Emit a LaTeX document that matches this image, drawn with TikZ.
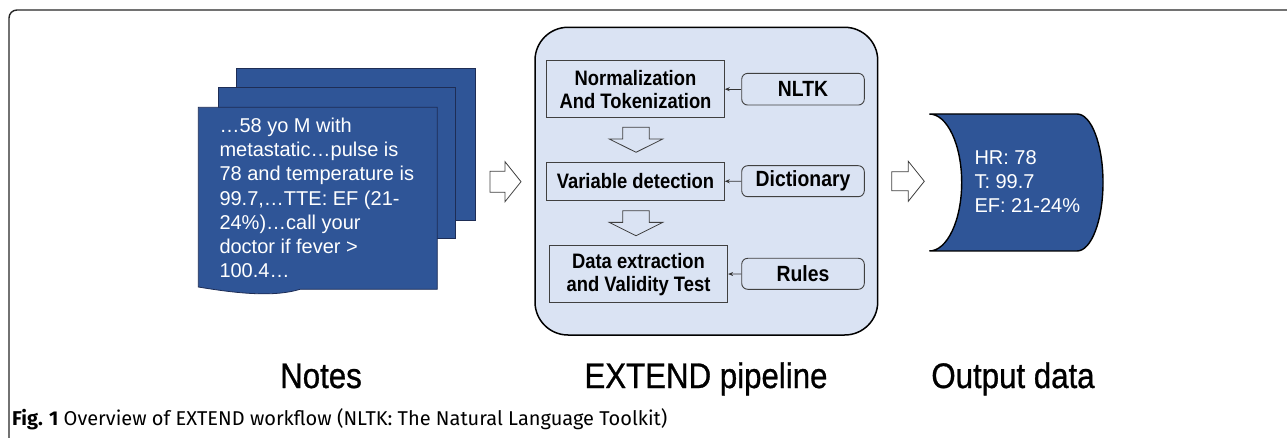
\documentclass[tikz,border=0pt]{standalone}
\usepackage{fontspec}
\setmainfont{Liberation Sans}
\newfontfamily\tallfont[FakeStretch=0.88]{Liberation Sans}
\newfontfamily\labelfont[FakeStretch=0.88,FakeBold=0.8]{Liberation Sans}
\newfontfamily\capfont{Fira Sans}
\usetikzlibrary{arrows.meta}
\definecolor{docblue}{RGB}{47,85,151}
\definecolor{paleblue}{RGB}{218,227,243}
\definecolor{docedge}{RGB}{30,45,85}
\newcommand*{\fwd}{1287}
\newcommand*{\fht}{438}

\begin{document}
\begin{tikzpicture}[x=1pt, y=-1pt,
    stepbox/.style={draw=black!75, line width=0.9pt, fill=paleblue, inner sep=0pt, align=center,
                    font=\tallfont\fontsize{20.9}{23.3}\selectfont\bfseries},
    srcbox/.style={stepbox, rounded corners=6pt, font=\tallfont\fontsize{22}{24}\selectfont\bfseries},
    feed/.style={-{Stealth[length=5pt,width=4pt]}, line width=0.8pt, black!80},
    hollow/.style={draw=black!75, line width=0.8pt},
    doc/.style={fill=docblue, draw=docedge, line width=0.8pt},
    bigtext/.style={text=white, align=left, inner sep=0pt, anchor=base west,
                    font=\fontsize{20}{24.3}\selectfont},
    label/.style={font=\labelfont\fontsize{35.5}{40}\selectfont, anchor=base, inner sep=0pt},
    pics/hollowarrow/.style n args={4}{code={
        \draw[hollow] (0,-#3) -- (#2,-#3) -- (#2,-#4) -- (#1,0) -- (#2,#4) -- (#2,#3) -- (0,#3) -- cycle;}}]
    \useasboundingbox (0,0) rectangle (\fwd,\fht);
    % frame
    \draw [line width=1.4pt, black!85, rounded corners=8pt] (24,448) -- (9,448) -- (9,10) -- (1300,10);

    % notes
    \draw [doc] (236.7,68.3) rectangle (475.7,220);
    \draw [doc] (218,87.7) rectangle (455.7,238.5);
    \draw [doc] (198.3,107.3) -- (437.3,107.3) -- (437.3,289.3) -- (300,289.3)
        .. controls (275,297) and (240,294) .. (198.3,287) -- cycle;
    \node [bigtext] (notetext) at (219.3,278) {\dots58 yo M with\\metastatic\dots pulse is\\78 and temperature is\\99.7,\dots TTE: EF (21-\\24\%)\dots call your\\doctor if fever >\\100.4\dots};
    \pic at (490,181.7) {hollowarrow={31}{15}{10.5}{20}};

    % pipeline
    \draw [line width=1.5pt, fill=paleblue, rounded corners=33pt] (535,27.3) rectangle (877.7,335);
    \node [stepbox, minimum width=177.6pt, minimum height=57pt] (norm) at (635.5,89.2) {Normalization\\And Tokenization};
    \node [stepbox, minimum width=177.6pt, minimum height=37.3pt] (vardet) at (635.5,181.4) {Variable detection};
    \node [stepbox, minimum width=178.4pt, minimum height=56.7pt] (extract) at (638.5,274.3) {Data extraction\\and Validity Test};
    \node [srcbox, minimum width=122.6pt, minimum height=31.7pt] (nltk) at (803,89.2) {NLTK};
    \node [srcbox, minimum width=122.6pt, minimum height=31pt] (dict) at (803,181.2) {Dictionary};
    \node [srcbox, minimum width=122.6pt, minimum height=31pt] (rules) at (803,273.8) {Rules};
    \draw [feed] (nltk) -- (norm);
    \draw [feed] (dict) -- (vardet);
    \draw [feed] (rules) -- (extract);
    \pic [rotate=-90] at (636,127.3) {hollowarrow={25}{11.7}{13.3}{26.7}};
    \pic [rotate=-90] at (636,210.7) {hollowarrow={25}{11.7}{13.3}{26.7}};
    \pic at (891.7,181.3) {hollowarrow={32.6}{16.6}{9.5}{20}};

    % output
    \draw [fill=docblue, draw=black, line width=1.4pt] (929.3,114) -- (1077,114)
        .. controls (1091.4,114) and (1103,144.7) .. (1103,182.5)
        .. controls (1103,220.3) and (1091.4,251) .. (1077,251) -- (929.3,251)
        .. controls (947.2,251) and (961.7,220.3) .. (961.7,182.5)
        .. controls (961.7,144.7) and (947.2,114) .. (929.3,114) -- cycle;
    \node [bigtext] (outtext) at (974.3,212.7) {HR: 78\\T: 99.7\\EF: 21-24\%};

    % labels
    \node [label] (notelbl) at (321,388) {Notes};
    \node [label] (pipelbl) at (706,388) {EXTEND pipeline};
    \node [label] (outlbl) at (1013,388) {Output data};
    \node [anchor=base west, inner sep=0pt, font=\capfont\fontsize{20}{24}\selectfont] (figcap) at (12,425)
        {\textbf{Fig. 1} Overview of EXTEND workflow (NLTK: The Natural Language Toolkit)};
\end{tikzpicture}
\end{document}
